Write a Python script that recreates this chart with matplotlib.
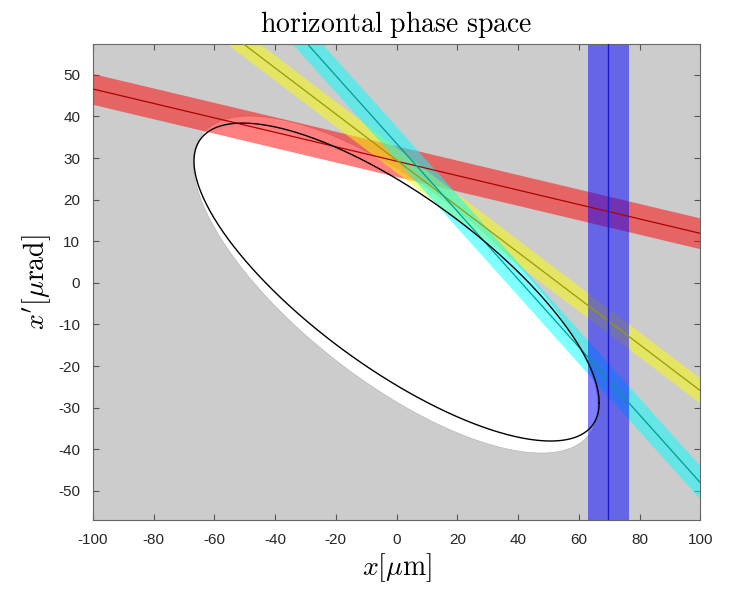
import numpy as np
import matplotlib.pyplot as plt

plt.rcParams['mathtext.fontset'] = 'cm'
plt.rcParams['font.family'] = ['Liberation Sans', 'DejaVu Sans']
plt.rcParams['axes.unicode_minus'] = False

# beam ellipses: centre x, centre x', max x, max x', cos(phase)
black_ell = [0.0, 0.2, 66.7, 38.2, -0.76]
white_ell = [-0.3, -0.4, 66.6, 40.5, -0.72]

# sloped bands: slope, value at x=0, half height
band_colors = ['red', 'yellow', 'cyan']
line_colors = ['#b00000', '#9a9a00', '#009a9a']
slopes = [-0.1735, -0.554, -0.815]
offsets = [29.25, 29.5, 33.5]
half_h = [3.7, 3.0, 4.0]

# vertical band
blue_x = 69.7
blue_lo = 63.0
blue_hi = 76.5

xlim = [-100, 100]
ylim = [-57, 57.4]


def ellipse(p):
    cx, cy, a, b, c = p
    t = np.linspace(0, 2 * np.pi, 400)
    phi = np.arccos(c)
    return cx + a * np.cos(t), cy + b * np.cos(t + phi)


fig = plt.figure(figsize=(7.31, 5.91), dpi=100)
ax = fig.add_axes([0.127, 0.12, 0.831, 0.8055])
ax.set_facecolor('#cccccc')

ex, ey = ellipse(white_ell)
ax.fill(ex, ey, color='white', ec='#bbbbbb', lw=0.6, zorder=1)

X = np.array(xlim, dtype=float)
for k in range(len(slopes)):
    Y = slopes[k] * X + offsets[k]
    ax.fill_between(X, Y - half_h[k], Y + half_h[k], color=band_colors[k],
                    alpha=0.5, lw=0, zorder=2)
    ax.plot(X, Y, color=line_colors[k], lw=0.9, zorder=3)

ax.axvspan(blue_lo, blue_hi, color='blue', alpha=0.5, lw=0, zorder=2)
ax.axvline(blue_x, color='#1a1acc', lw=1.0, zorder=3)

bx, by = ellipse(black_ell)
ax.plot(bx, by, color='black', lw=1.0, zorder=4)

ax.set_xlim(xlim)
ax.set_ylim(ylim)
ax.set_xticks(np.arange(-100, 101, 20))
ax.set_yticks(np.arange(-50, 51, 10))
ax.tick_params(direction='in', top=True, right=True, labelsize=11,
               color='#555555', labelcolor='#262626', length=4, pad=9)
for s in ax.spines.values():
    s.set_color('#666666')

ax.set_title(r'$\mathrm{horizontal\ phase\ space}$', fontsize=20, pad=9)
ax.set_xlabel(r'$x[\mu\mathrm{m}]$', fontsize=20, labelpad=3)
ax.set_ylabel(r"$x'[\mu\mathrm{rad}]$", fontsize=20, labelpad=4)

fig.savefig('out.png', dpi=100)
